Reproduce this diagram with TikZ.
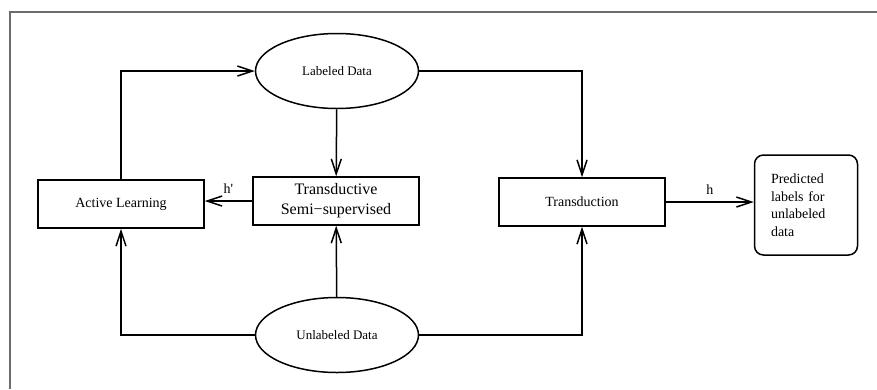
\documentclass[tikz,border=0pt]{standalone}
\usepackage{fontspec}
\setmainfont{Liberation Serif}
\usetikzlibrary{arrows.meta,positioning,shapes.geometric}

\begin{document}
\begin{tikzpicture}[
  x=1pt, y=-1pt,
  line width=1.5pt,
  >={Straight Barb[length=15pt,width=10pt]},
  block/.style={draw, minimum width=166pt, minimum height=48pt, align=center, font=\fontsize{14}{19}\selectfont},
  data/.style={draw, ellipse, minimum width=163pt, minimum height=75pt, font=\fontsize{13}{15}\selectfont},
  result/.style={draw, rounded corners=9pt, minimum width=103pt, minimum height=100pt, text width=70pt, align=left, font=\fontsize{14}{17.5}\selectfont},
  lbl/.style={font=\fontsize{14}{16}\selectfont},
]
\useasboundingbox (0,0) rectangle (877,389);

% outer frame (cut off at right and bottom)
\draw[gray!85!black, line width=2.2pt] (10,389) -- (10,12) -- (877,12);

% data sources
\node[data] (LD) at (337,71)  {Labeled Data};
\node[data] (UD) at (337,335) {Unlabeled Data};

% learners
\node[block] (AL) at (121,204) {Active Learning};
\node[block, font=\fontsize{16}{20}\selectfont] (TS) at (336,201) {Transductive\\Semi\textminus supervised};
\node[block] (TR) at (582,202) {Transduction};
\node[result] (PR) at (806,205) {Predicted\\labels for\\unlabeled\\data};

% wires from labeled data
\draw[->] (AL.north) |- (LD.west);
\draw[->] (LD.east) -| (TR.north);
\draw[->] (LD) -- (TS);

% wires from unlabeled data
\draw[->] (UD.west) -| (AL.south);
\draw[->] (UD) -- (TS);
\draw[->] (UD.east) -| (TR.south);

% hypotheses
\draw[->] (TS.west) -- node[lbl, above=3pt] {h\textquotesingle} (TS.west -| AL.east);
\draw[->] (TR.east) -- node[lbl, above=3pt] {h} (TR.east -| PR.west);

\end{tikzpicture}
\end{document}
